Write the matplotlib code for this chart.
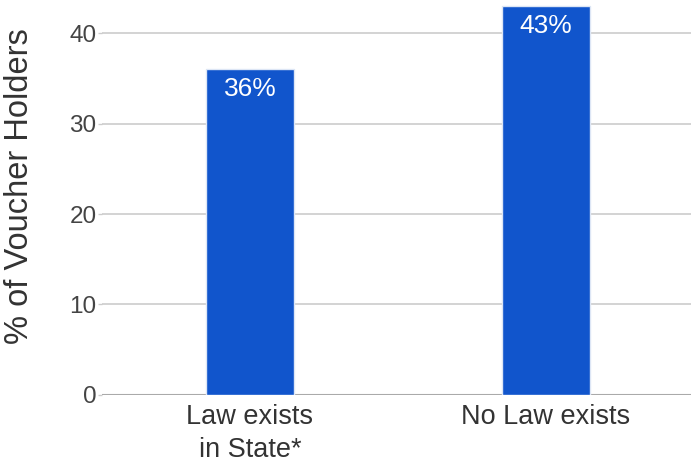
import matplotlib
matplotlib.use('Agg')
import matplotlib.pyplot as plt

plt.rcParams['font.family'] = ['Liberation Sans', 'DejaVu Sans']

categories = ['Law exists\nin State*', 'No Law exists']
values = [36, 43]
yticks = [0, 10, 20, 30, 40]

fig = plt.figure(figsize=(6.91, 4.63), dpi=100)
ax = fig.add_axes([0.1476, 0.1469, 0.8524, 0.8531])

x = list(range(len(categories)))
bars = ax.bar(x, values, width=0.3, color='#1155cc', edgecolor='#dde6f5',
              linewidth=1.0, zorder=3)

for b, v in zip(bars, values):
    ax.text(b.get_x() + b.get_width() / 2, v - 0.85, '%d%%' % v,
            ha='center', va='top', color='white', fontsize=19, zorder=4)

ax.set_xlim(-0.5, 1.49)
ax.set_ylim(0, 43.65)
ax.set_yticks(yticks)
ax.set_xticks(x)
ax.set_xticklabels(categories, fontsize=19.5, color='#333333', linespacing=1.35)
ax.tick_params(axis='y', labelsize=17.5, colors='#444444', length=3,
               width=1, color='#cccccc', pad=1)
ax.tick_params(axis='x', length=0, pad=6.5)

ax.grid(axis='y', color='#cccccc', linewidth=1.2, zorder=0)
for s in ax.spines.values():
    s.set_visible(False)
ax.axhline(0, color='#aaaaaa', linewidth=1.5, zorder=2)

ax.set_ylabel('% of Voucher Holders', fontsize=23.5, color='#333333')
ax.yaxis.set_label_coords(-0.114, 0.529)

fig.savefig('out.png', dpi=100)
